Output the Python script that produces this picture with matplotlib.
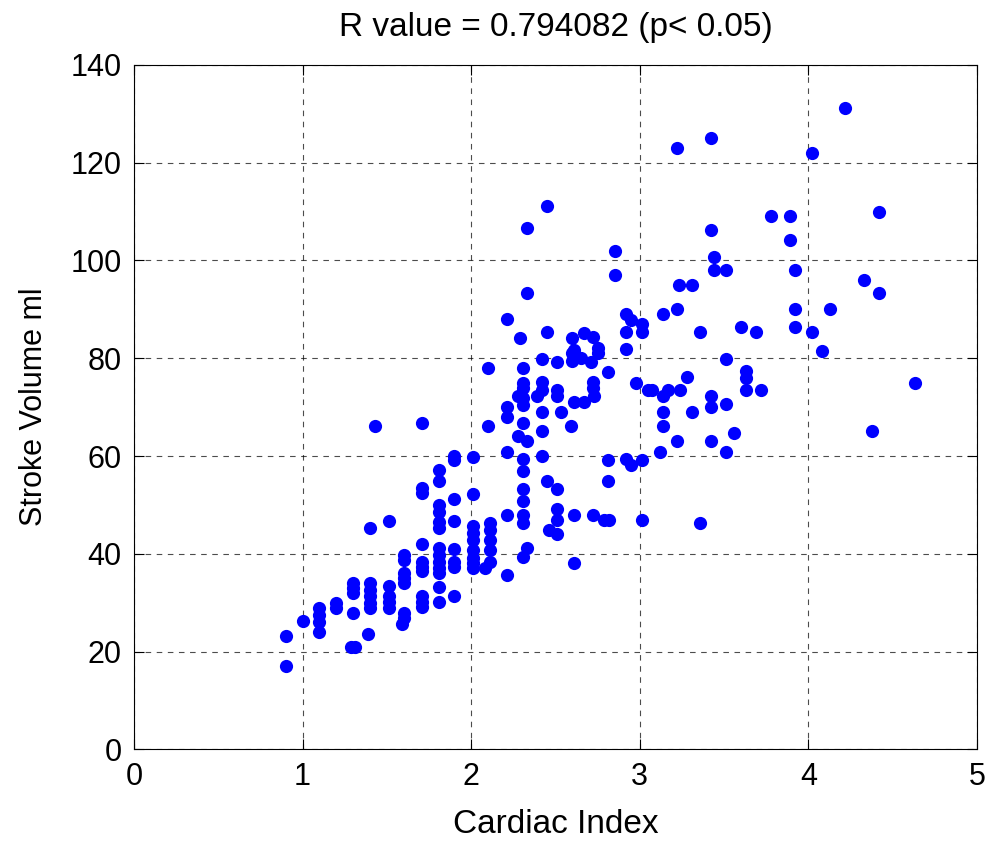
import matplotlib
matplotlib.use("Agg")
import matplotlib.pyplot as plt

plt.rcParams['font.family'] = ['Liberation Sans', 'DejaVu Sans']

# cardiac index (x) und stroke volume (y)
ci = [0.9, 0.9,
      1.0,
      1.1, 1.1, 1.1, 1.1,
      1.2, 1.2,
      1.3, 1.3, 1.3, 1.3, 1.29, 1.31,
      1.39, 1.4, 1.4, 1.4, 1.4, 1.4, 1.4, 1.43,
      1.51, 1.51, 1.51, 1.51, 1.51,
      1.6, 1.6, 1.6, 1.6, 1.6, 1.6, 1.6, 1.59,
      1.71, 1.71, 1.71, 1.71, 1.71, 1.71, 1.71, 1.71, 1.71, 1.71,
      1.81, 1.81, 1.81, 1.81, 1.81, 1.81, 1.81, 1.81, 1.81, 1.81, 1.81, 1.81, 1.81,
      1.9, 1.9, 1.9, 1.9, 1.9, 1.9, 1.9, 1.9,
      2.01, 2.01, 2.01, 2.01, 2.01, 2.01, 2.01, 2.01, 2.01,
      2.1, 2.1, 2.11, 2.11, 2.11, 2.11, 2.11, 2.08,
      2.21, 2.21, 2.21, 2.21, 2.21, 2.21,
      2.33, 2.33, 2.29, 2.31, 2.31, 2.31, 2.31, 2.31, 2.31, 2.31, 2.31, 2.31, 2.31, 2.31, 2.31, 2.33, 2.31,
      2.28, 2.28, 2.33,
      2.42, 2.42, 2.42, 2.42, 2.42, 2.39, 2.42,
      2.45, 2.45, 2.45, 2.46,
      2.51, 2.51, 2.51, 2.51, 2.51, 2.51, 2.51, 2.53,
      2.6, 2.6, 2.6, 2.61, 2.59, 2.61, 2.61, 2.61,
      2.67, 2.72, 2.75, 2.75, 2.71, 2.65, 2.72, 2.72, 2.73, 2.67, 2.72,
      2.81, 2.81, 2.81, 2.79, 2.82,
      2.855, 2.855,
      2.92, 2.92, 2.92, 2.92, 2.95, 2.95,
      3.015, 3.015, 3.015, 3.015, 2.98,
      3.05, 3.07, 3.14, 3.14, 3.14, 3.14, 3.17, 3.24, 3.12,
      3.22, 3.22, 3.22, 3.23, 3.28, 3.31, 3.31, 3.36, 3.36,
      3.42, 3.42, 3.42, 3.42, 3.42, 3.44, 3.44,
      3.51, 3.51, 3.51, 3.51, 3.56, 3.6, 3.63, 3.63, 3.63, 3.69, 3.72, 3.78,
      3.89, 3.89, 3.92, 3.92, 3.92,
      4.02, 4.02, 4.08, 4.13, 4.22, 4.33, 4.38, 4.42, 4.42, 4.63]

sv = [23.1, 17.1,
      26.3,
      28.9, 27.5, 26.1, 24.1,
      29.9, 28.9,
      34.0, 33.0, 32.0, 27.9, 21.0, 21.0,
      23.6, 45.2, 34.0, 32.6, 31.3, 29.9, 28.9, 66.2,
      46.8, 33.4, 31.3, 30.2, 28.9,
      39.8, 38.8, 36.0, 35.0, 34.0, 27.9, 26.8, 25.7,
      53.4, 52.4, 42.0, 38.4, 37.4, 36.4, 31.3, 30.2, 29.2, 66.7,
      57.2, 54.8, 50.0, 48.6, 46.6, 45.2, 41.2, 39.8, 38.4, 37.1, 36.0, 33.3, 30.1,
      59.9, 59.2, 51.2, 46.8, 40.9, 38.4, 37.4, 31.3,
      59.8, 52.3, 45.6, 44.2, 42.9, 40.8, 39.1, 38.1, 37.1,
      78.1, 66.2, 46.3, 44.9, 42.9, 40.8, 38.4, 37.1,
      88.0, 70.1, 67.9, 60.9, 48.0, 35.6,
      106.7, 93.3, 84.1, 78.1, 74.9, 73.9, 71.8, 70.5, 66.7, 59.4, 57.0, 53.2, 50.7, 48.0, 46.3, 41.2, 39.3,
      72.2, 64.1, 63.0,
      79.8, 75.2, 69.0, 65.1, 59.9, 72.2, 73.5,
      111.2, 85.3, 54.8, 44.9,
      79.3, 73.5, 72.2, 53.2, 49.1, 46.9, 44.0, 69.0,
      84.1, 81.0, 79.5, 81.7, 66.2, 71.1, 48.0, 38.2,
      85.1, 84.4, 82.1, 81.0, 79.3, 80.0, 75.2, 73.9, 72.2, 71.1, 48.0,
      77.1, 59.2, 54.8, 46.9, 46.9,
      102.0, 97.1,
      89.1, 85.3, 81.9, 59.4, 87.9, 58.2,
      87.0, 85.3, 59.2, 46.9, 74.9,
      73.4, 73.4, 72.2, 89.1, 69.0, 66.2, 73.4, 73.4, 60.9,
      63.1, 90.0, 123.0, 94.9, 76.1, 94.9, 69.0, 85.3, 46.3,
      125.1, 106.3, 72.3, 70.0, 63.1, 100.8, 98.1,
      98.1, 79.8, 70.6, 60.9, 64.7, 86.4, 77.3, 75.9, 73.4, 85.3, 73.4, 109.0,
      109.0, 104.1, 98.1, 90.1, 86.3,
      121.9, 85.3, 81.4, 90.1, 131.1, 96.0, 65.2, 110.0, 93.3, 74.9]

x_ticks = [0, 1, 2, 3, 4, 5]
y_ticks = [0, 20, 40, 60, 80, 100, 120, 140]

fig = plt.figure(figsize=(10, 8.42), dpi=100)
ax = fig.add_axes([0.134, 0.110, 0.843, 0.813])

ax.plot(ci, sv, 'o', color='#0000ff', markersize=9.5, markeredgewidth=0)

ax.set_xlim(0, 5)
ax.set_ylim(0, 140)
ax.set_xticks(x_ticks)
ax.set_yticks(y_ticks)
ax.grid(True, color='black', linestyle=(0, (5, 5)), linewidth=0.8, alpha=0.7)
ax.tick_params(direction='in', top=True, right=True, labelsize=22, length=7, pad=9)
for s in ax.spines.values():
    s.set_linewidth(0.8)

ax.set_title('R value = 0.794082 (p< 0.05)', fontsize=24, pad=21)
ax.set_xlabel('Cardiac Index', fontsize=24, labelpad=12)
ax.set_ylabel('Stroke Volume ml', fontsize=22, labelpad=15)

fig.savefig('out.png', dpi=100)
